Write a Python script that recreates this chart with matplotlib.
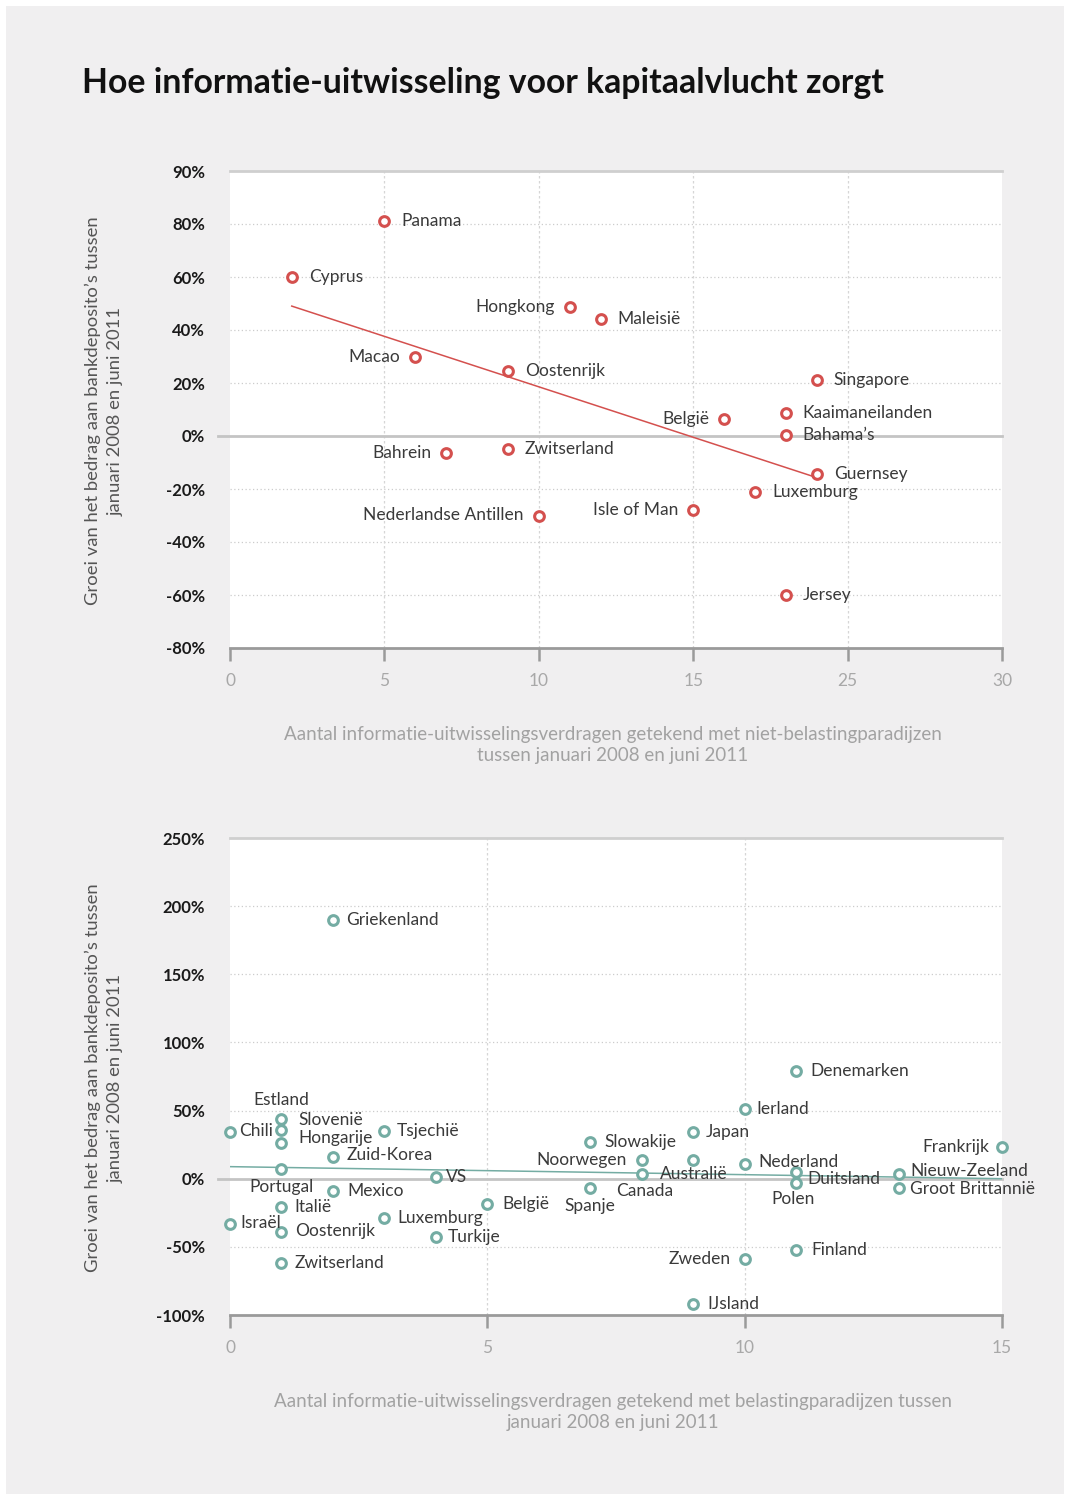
import numpy as np
import matplotlib.pyplot as plt
from matplotlib.patches import Rectangle

plt.rcParams['font.family'] = ['Lato', 'DejaVu Sans']

title = 'Hoe informatie-uitwisseling voor kapitaalvlucht zorgt'
ylabel = 'Groei van het bedrag aan bankdeposito\u2019s tussen\njanuari 2008 en juni 2011'
xlabel_top = ('Aantal informatie-uitwisselingsverdragen getekend met niet-belastingparadijzen\n'
              'tussen januari 2008 en juni 2011')
xlabel_bot = ('Aantal informatie-uitwisselingsverdragen getekend met belastingparadijzen tussen\n'
              'januari 2008 en juni 2011')

# top chart: belastingparadijzen
haven_names = ['Panama', 'Cyprus', 'Hongkong', 'Maleisië', 'Macao', 'Oostenrijk', 'Singapore',
               'België', 'Kaaimaneilanden', 'Bahama\u2019s', 'Bahrein', 'Zwitserland', 'Guernsey',
               'Luxemburg', 'Nederlandse Antillen', 'Isle of Man', 'Jersey']
haven_x = [5, 2, 11, 12, 6, 9, 19, 16, 18, 18, 7, 9, 19, 17, 10, 15, 18]
haven_y = [81, 60, 48.5, 44, 30, 24.5, 21, 6.5, 8.5, 0.5, -6.5, -5, -14.5, -21, -30, -28, -60]
top_yticks = [-80, -60, -40, -20, 0, 20, 40, 60, 80, 100]
top_yticklabels = ['-80%', '-60%', '-40%', '-20%', '0%', '20%', '40%', '60%', '80%', '90%']
top_xticks = [0, 5, 10, 15, 20, 25]
top_xticklabels = ['0', '5', '10', '15', '25', '30']

# bottom chart: overige landen
land_names = ['Griekenland', 'Denemarken', 'Ierland', 'Estland', 'Slovenië', 'Hongarije', 'Chili',
              'Tsjechië', 'Zuid-Korea', 'VS', 'Portugal', 'Mexico', 'Italië', 'Israël', 'Oostenrijk',
              'Luxemburg', 'Turkije', 'België', 'Zwitserland', 'Slowakije', 'Noorwegen', 'Australië',
              'Canada', 'Spanje', 'Japan', 'Nederland', 'Zweden', 'IJsland', 'Duitsland', 'Polen',
              'Finland', 'Frankrijk', 'Nieuw-Zeeland', 'Groot Brittannië']
land_x = [2, 11, 10, 1, 1, 1, 0, 3, 2, 4, 1, 2, 1, 0, 1, 3, 4, 5, 1, 7, 8, 9, 8, 7, 9, 10, 10, 9,
          11, 11, 11, 15, 13, 13]
land_y = [190, 79, 51, 44, 36, 26, 34, 35, 16, 1.5, 7, -9, -20.5, -33, -39, -29, -42.5, -18.5, -62,
          27, 13.5, 13.5, 3.5, -7, 34.5, 11, -59, -92, 5, -3, -52, 23, 3.5, -6.5]
bot_yticks = [-100, -50, 0, 50, 100, 150, 200, 250]
bot_yticklabels = ['-100%', '-50%', '0%', '50%', '100%', '150%', '200%', '250%']
bot_xticks = [0, 5, 10, 15]

# label placement (pixels, ha)
haven_side = ['r', 'r', 'l', 'r', 'l', 'r', 'r', 'l', 'r', 'r', 'l', 'r', 'r', 'r', 'l', 'l', 'r']
land_offsets = [(13, 0, 'left'), (14, 0, 'left'), (12, 0, 'left'), (0, 19, 'center'),
                (17, 10, 'left'), (17, 5, 'left'), (9, 1, 'left'), (12, 0, 'left'),
                (14, 2, 'left'), (10, 0, 'left'), (0, -18, 'center'), (14, 0, 'left'),
                (13, 0, 'left'), (10, 1, 'left'), (14, 1, 'left'), (13, 0, 'left'),
                (12, 0, 'left'), (15, 0, 'left'), (13, 0, 'left'), (14, 0, 'left'),
                (-15, 0, 'right'), (1, -14, 'center'), (3, -17, 'center'), (0, -18, 'center'),
                (13, 0, 'left'), (14, 2, 'left'), (-14, 0, 'right'), (14, 0, 'left'),
                (11, -7, 'left'), (-3, -16, 'center'), (15, 0, 'left'), (-13, 0, 'right'),
                (11, 3, 'left'), (11, -1, 'left')]

RED = '#d4504e'
TEAL = '#74aca3'
BG = '#f0eff0'
W, H = 1067, 1497

fig = plt.figure(figsize=(W / 100, H / 100), dpi=100, facecolor='white')
fig.patches.append(Rectangle((6 / W, 3 / H), 1058 / W, 1488 / H, transform=fig.transFigure,
                             facecolor=BG, edgecolor='none', zorder=-10))

fig.text(82 / W, 1 - 83 / H, title, fontsize=24.3, fontweight='bold', color='#111111',
         ha='left', va='center')


def style_axes(ax, xlim, ylim, xticks, xticklabels, yticks, yticklabels):
    ax.set_facecolor('white')
    ax.set_xlim(*xlim)
    ax.set_ylim(*ylim)
    for s in ['left', 'right']:
        ax.spines[s].set_visible(False)
    ax.spines['top'].set_color('#cfcfcf')
    ax.spines['top'].set_linewidth(2)
    ax.spines['bottom'].set_color('#9a9a9a')
    ax.spines['bottom'].set_linewidth(2)
    ax.set_xticks(xticks)
    ax.set_xticklabels(xticklabels)
    ax.set_yticks(yticks)
    ax.set_yticklabels(yticklabels)
    ax.tick_params(axis='x', direction='out', length=9, width=1.8, color='#9a9a9a',
                   labelsize=12.5, labelcolor='#a8a8a8', pad=9)
    ax.tick_params(axis='y', length=0, labelsize=12, labelcolor='#1a1a1a', pad=18)
    for lab in ax.get_yticklabels():
        lab.set_fontweight('bold')
    for t in yticks[1:-1]:
        if t == 0:
            continue
        ax.axhline(t, color='#cccccc', lw=0.9, ls=(0, (1, 2)), zorder=1)
    for t in xticks[1:-1]:
        ax.axvline(t, color='#d6d6d6', lw=0.9, ls=(0, (2, 2)), zorder=1)
    ax.axhline(0, xmin=-0.016, xmax=1, color='#c4c4c4', lw=2, zorder=2, clip_on=False)


def scatter_with_labels(ax, xs, ys, names, offsets, color):
    fit = np.polyfit(xs, ys, 1)
    fx = np.array([min(xs), max(xs)])
    ax.plot(fx, np.polyval(fit, fx), color=color, lw=1.1, zorder=3)
    ax.plot(xs, ys, 'o', ms=7, mfc='white', mec=color, mew=2.2, zorder=4, clip_on=False)
    for x, y, name, (dx, dy, ha) in zip(xs, ys, names, offsets):
        ax.annotate(name, (x, y), xytext=(dx, dy), textcoords='offset pixels',
                    ha=ha, va='center', fontsize=12.5, color='#3a3a3a', zorder=5)


# top chart
ax1 = fig.add_axes([230 / W, 1 - 648 / H, 772 / W, 477 / H])
style_axes(ax1, (0, 25), (-80, 100), top_xticks, top_xticklabels, top_yticks, top_yticklabels)
side_map = {'r': (17, 0, 'left'), 'l': (-15, 0, 'right')}
scatter_with_labels(ax1, haven_x, haven_y, haven_names, [side_map[s] for s in haven_side], RED)

# bottom chart
ax2 = fig.add_axes([230 / W, 1 - 1315 / H, 772 / W, 477 / H])
style_axes(ax2, (0, 15), (-100, 250), bot_xticks, [str(t) for t in bot_xticks],
           bot_yticks, bot_yticklabels)
scatter_with_labels(ax2, land_x, land_y, land_names, land_offsets, TEAL)

for yc in [411, 1078]:
    fig.text(104 / W, 1 - yc / H, ylabel, rotation=90, ha='center', va='center',
             fontsize=13.3, color='#555555', linespacing=1.5, multialignment='center')

fig.text(613 / W, 1 - 745 / H, xlabel_top, ha='center', va='center', fontsize=13.5,
         color='#a2a2a2', linespacing=1.35)
fig.text(613 / W, 1 - 1412 / H, xlabel_bot, ha='center', va='center', fontsize=13.5,
         color='#a2a2a2', linespacing=1.35)

fig.savefig('out.png', dpi=100, facecolor='white')
